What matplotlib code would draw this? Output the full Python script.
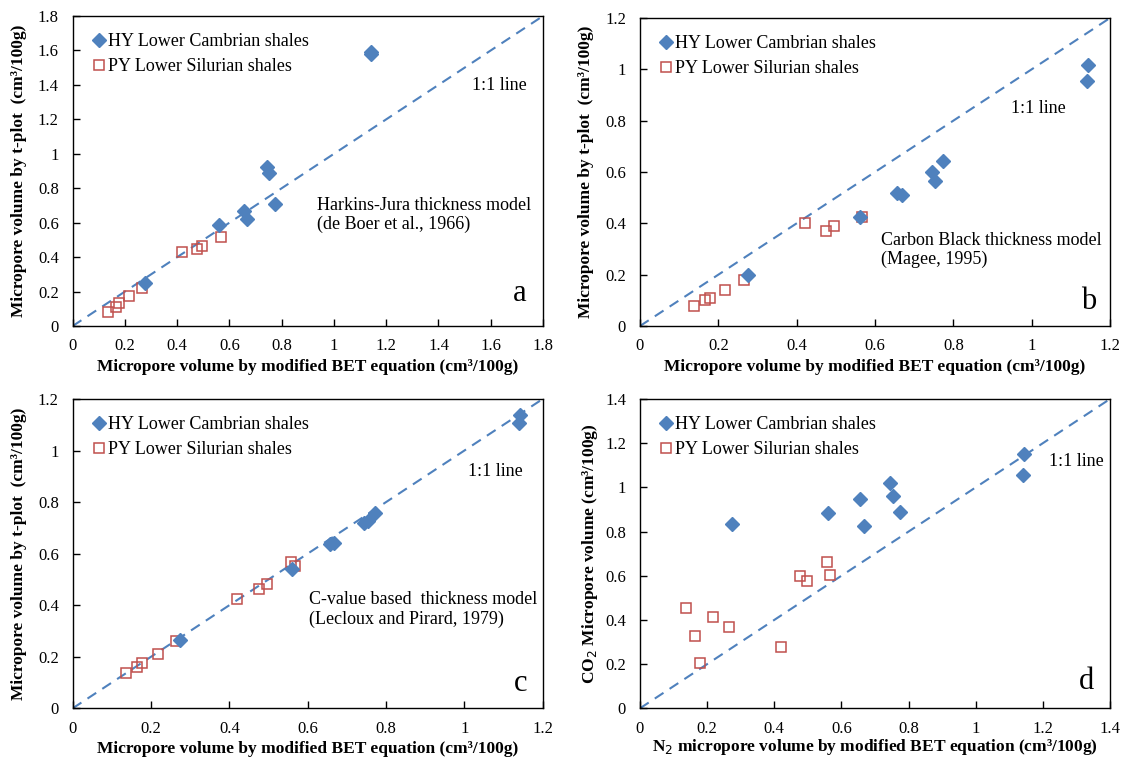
import matplotlib.pyplot as plt
from matplotlib.ticker import FuncFormatter

plt.rcParams['font.family'] = ['Liberation Serif', 'DejaVu Serif']

nan = float('nan')

# Micropore volume by modified BET equation (x axis, same for all panels)
hy_x = [0.275, 0.561, 0.656, 0.668, 0.745, 0.753, 0.773, 1.140, 1.143]
py_x = [0.137, 0.165, 0.178, 0.217, 0.265, 0.420, 0.476, 0.496, 0.557, 0.567]

# y values for each panel (nan = point not visible in the figure)
hy_a = [0.248, 0.588, 0.666, 0.623, 0.925, 0.890, 0.708, 1.578, 1.590]
py_a = [0.083, 0.112, 0.132, 0.172, 0.222, 0.430, 0.445, 0.465, nan, 0.515]
hy_b = [0.198, 0.426, 0.520, 0.512, 0.599, 0.563, 0.641, 0.953, 1.015]
py_b = [0.079, 0.101, 0.108, 0.140, 0.179, 0.403, 0.372, 0.390, nan, 0.426]
hy_c = [0.265, 0.542, 0.637, 0.642, 0.720, 0.725, 0.756, 1.108, 1.138]
py_c = [0.136, 0.159, 0.177, 0.211, 0.260, 0.425, 0.462, 0.482, 0.569, 0.552]
hy_d = [0.835, 0.882, 0.947, 0.823, 1.019, 0.961, 0.888, 1.056, 1.152]
py_d = [0.456, 0.328, 0.207, 0.415, 0.368, 0.279, 0.599, 0.575, 0.661, 0.604]

blue = '#4F81BD'
red = '#C0504D'

W, H = 1123, 758
fig = plt.figure(figsize=(W / 100, H / 100), dpi=100)


def px_axes(x0, x1, y0, y1):
    return fig.add_axes([x0 / W, 1 - y1 / H, (x1 - x0) / W, (y1 - y0) / H])


panels = [
    # axes box, limit, hy, py, ylabel, xlabel, note, note pos, 1:1 label pos, letter, letter pos
    ((72.7, 543, 16, 326), 1.8, hy_a, py_a,
     'Micropore volume by t-plot  (cm³/100g)',
     'Micropore volume by modified BET equation (cm³/100g)',
     'Harkins-Jura thickness model\n(de Boer et al., 1966)', (0.519, 0.358),
     (0.85, 0.777), 'a', (0.95, 0.105)),
    ((640, 1110, 18, 326), 1.2, hy_b, py_b,
     'Micropore volume by t-plot  (cm³/100g)',
     'Micropore volume by modified BET equation (cm³/100g)',
     'Carbon Black thickness model\n(Magee, 1995)', (0.512, 0.246),
     (0.789, 0.707), 'b', (0.955, 0.079)),
    ((72.7, 542.7, 399, 708.3), 1.2, hy_c, py_c,
     'Micropore volume by t-plot  (cm³/100g)',
     'Micropore volume by modified BET equation (cm³/100g)',
     'C-value based  thickness model\n(Lecloux and Pirard, 1979)', (0.502, 0.319),
     (0.841, 0.765), 'c', (0.953, 0.081)),
    ((640, 1110, 399, 708.3), 1.4, hy_d, py_d,
     'CO$_2$ Micropore volume (cm³/100g)',
     'N$_2$ micropore volume by modified BET equation (cm³/100g)',
     None, None,
     (0.871, 0.798), 'd', (0.95, 0.086)),
]

fmt = FuncFormatter(lambda v, p: '%g' % round(v, 1))

for box, lim, hy, py, ylab, xlab, note, note_pos, line_pos, letter, letter_pos in panels:
    ax = px_axes(*box)
    ax.plot([0, lim], [0, lim], ls=(0, (5, 3.5)), color=blue, lw=1.5, zorder=1)
    ax.plot(hy_x, hy, ls='none', marker='D', ms=7, color=blue,
            label='HY Lower Cambrian shales', zorder=3)
    ax.plot(py_x, py, ls='none', marker='s', ms=7, mfc='none', mec=red, mew=1.1,
            label='PY Lower Silurian shales', zorder=2)
    ax.set_xlim(0, lim)
    ax.set_ylim(0, lim)
    ticks = [round(i * 0.2, 1) for i in range(int(round(lim / 0.2)) + 1)]
    ax.set_xticks(ticks)
    ax.set_yticks(ticks)
    ax.xaxis.set_major_formatter(fmt)
    ax.yaxis.set_major_formatter(fmt)
    ax.tick_params(direction='in', length=5, width=1, labelsize=12, pad=9)
    ax.tick_params(axis='y', pad=10)
    for s in ax.spines.values():
        s.set_linewidth(1.0)
    ax.set_xlabel(xlab, fontsize=12.5, fontweight='bold', labelpad=3 if letter != 'd' else 0)
    ax.set_ylabel(ylab, fontsize=12.5, fontweight='bold', labelpad=8 if letter != 'd' else 4)
    ax.legend(loc='upper left', bbox_to_anchor=(0.015, 0.985), frameon=False, fontsize=13,
              handlelength=0.7, handletextpad=0.15, borderaxespad=0.3, labelspacing=0.45)
    ax.text(line_pos[0], line_pos[1], '1:1 line', transform=ax.transAxes,
            fontsize=13, va='center', ha='left')
    if note:
        ax.text(note_pos[0], note_pos[1], note, transform=ax.transAxes,
                fontsize=13, va='center', ha='left', linespacing=1.15)
    ax.text(letter_pos[0], letter_pos[1], letter, transform=ax.transAxes,
            fontsize=22, va='center', ha='center')

fig.savefig('out.png', dpi=100)
